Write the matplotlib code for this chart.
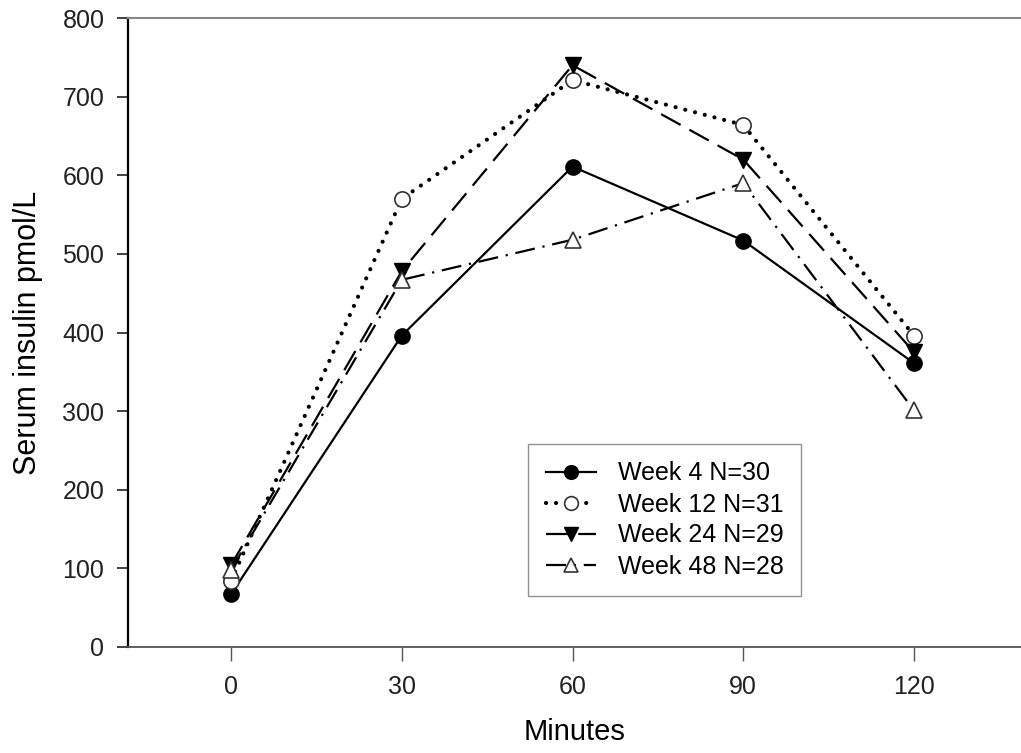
import matplotlib.pyplot as plt

plt.rcParams['font.family'] = ['Liberation Sans', 'DejaVu Sans']

minutes = [0, 30, 60, 90, 120]
week4 = [67, 396, 611, 517, 361]
week12 = [84, 570, 721, 664, 396]
week24 = [104, 478, 740, 620, 375]
week48 = [98, 467, 518, 590, 301]
labels = ['Week 4 N=30', 'Week 12 N=31', 'Week 24 N=29', 'Week 48 N=28']

fig = plt.figure(figsize=(10.21, 7.53), dpi=100)
ax = fig.add_axes([128 / 1021, 106 / 753, 893 / 1021, 629 / 753])

ax.plot(minutes, week4, color='black', lw=1.6, ls='-', marker='o', ms=11,
        mfc='black', mec='black', label=labels[0])
ax.plot(minutes, week12, color='black', lw=3.0, ls=(0, (0.01, 2.4)), dash_capstyle='round',
        marker='o', ms=11, mfc='white', mec='#333333', mew=1.2, label=labels[1])
ax.plot(minutes, week24, color='black', lw=1.6, ls=(0, (10, 4.5)), marker='v', ms=11,
        mfc='black', mec='black', label=labels[2])
ax.plot(minutes, week48, color='black', lw=1.6, ls=(0, (9, 3.5, 1, 3.5)), marker='^', ms=11,
        mfc='white', mec='#333333', mew=1.2, label=labels[3])

ax.set_xlim(-18.1, 138.8)
ax.set_ylim(0, 800)
ax.set_xticks(minutes)
ax.set_yticks(range(0, 801, 100))
ax.tick_params(axis='both', direction='out', labelsize=18, colors='#222222')
ax.tick_params(axis='y', length=8, width=1.2, pad=9)
ax.tick_params(axis='x', length=10, width=1, color='#555555', pad=10)

ax.spines['right'].set_visible(False)
ax.spines['top'].set_color('#888888')
ax.spines['top'].set_linewidth(1.5)
ax.spines['left'].set_linewidth(1.6)
ax.spines['bottom'].set_color('#555555')
ax.spines['bottom'].set_linewidth(1.3)

ax.set_xlabel('Minutes', fontsize=21, labelpad=14)
ax.set_ylabel('Serum insulin pmol/L', fontsize=22, labelpad=14)

leg = ax.legend(loc='upper left', bbox_to_anchor=(400 / 893, 203 / 629), fontsize=18,
                frameon=True, fancybox=False, edgecolor='#777777', borderpad=0.7,
                labelspacing=0.28, handlelength=2.0, handletextpad=0.9, markerscale=0.9,
                borderaxespad=0)
leg.get_frame().set_linewidth(1.0)

fig.savefig('out.png', dpi=100)
